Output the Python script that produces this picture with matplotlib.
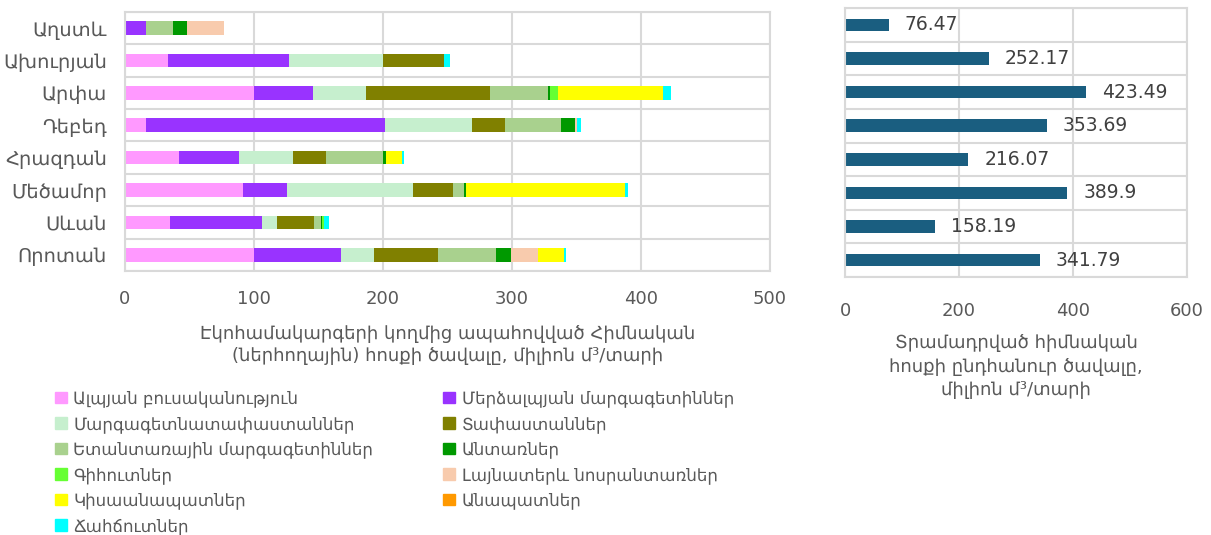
import matplotlib
matplotlib.use('Agg')
import matplotlib.pyplot as plt
from matplotlib.patches import Patch
import numpy as np

plt.rcParams['font.family'] = ['DejaVu Sans']

# regions, top to bottom
regions = ['Աղստև', 'Ախուրյան', 'Արփա', 'Դեբեդ', 'Հրազդան', 'Մեծամոր', 'Սևան', 'Որոտան']

series_names = ['Ալպյան բուսականություն', 'Մերձալպյան մարգագետիններ',
                'Մարգագետնատափաստաններ', 'Տափաստաններ',
                'Ետանտառային մարգագետիններ', 'Անտառներ',
                'Գիհուտներ', 'Լայնատերև նոսրանտառներ',
                'Կիսաանապատներ', 'Անապատներ', 'Ճահճուտներ']
colors = ['#ff99ff', '#9933ff', '#c6efce', '#808000', '#a9d18e', '#009900',
          '#66ff33', '#f8cbad', '#ffff00', '#ff9900', '#00ffff']

# values per series, in region order (million m3/year)
alpine       = [0,     33.0,  100.0, 16.5,  41.6,  91.5,  35.1,  100.0]
subalpine    = [16.0,  94.4,  45.5,  185.4, 46.8,  33.9,  70.8,  67.3]
meadow_steppe= [0,     72.8,  41.3,  66.9,  41.6,  98.0,  12.2,  26.1]
steppe       = [0.5,   47.2,  95.9,  25.6,  25.8,  30.9,  28.7,  49.3]
postforest   = [21.0,  0,     45.0,  44.0,  44.0,  8.5,   5.4,   44.8]
forest       = [10.3,  0,     1.8,   10.8,  2.3,   1.5,   0.8,   11.4]
juniper      = [0,     0,     6.4,   0,     0,     0,     1.6,   0]
broadleaf    = [28.67, 0,     0,     1.5,   0,     0,     0,     21.2]
semidesert   = [0,     0,     81.1,  0,     12.4,  123.5, 0,     20.4]
desert       = [0,     0,     0,     0,     0,     0,     0,     0]
wetland      = [0,     4.77,  6.5,   3.0,   1.6,   2.1,   3.6,   1.3]

totals = [76.47, 252.17, 423.49, 353.69, 216.07, 389.9, 158.19, 341.79]

series = [alpine, subalpine, meadow_steppe, steppe, postforest, forest,
          juniper, broadleaf, semidesert, desert, wetland]

grid_c = '#d9d9d9'
text_c = '#595959'

fig = plt.figure(figsize=(12.11, 5.35), dpi=100)
ax1 = fig.add_axes([0.1032, 0.4935, 0.5326, 0.4841])
ax2 = fig.add_axes([0.6978, 0.4822, 0.2824, 0.5028])

y = np.arange(len(regions))[::-1]

left = np.zeros(len(regions))
for vals, c in zip(series, colors):
    ax1.barh(y, vals, left=left, height=0.42, color=c, linewidth=0)
    left += np.array(vals)

ax2.barh(y, totals, height=0.37, color='#1a5e80', linewidth=0)
for yy, t in zip(y, totals):
    ax2.text(t + 28, yy, f'{t:g}', va='center', ha='left', fontsize=13.5, color='#404040')


def style(ax, xmax, step):
    ax.set_xlim(0, xmax)
    ax.set_ylim(-0.5, len(regions) - 0.5)
    ax.set_xticks(np.arange(0, xmax + 1, step))
    ax.set_yticks(y)
    ax.set_yticks(np.arange(-0.5, len(regions), 1), minor=True)
    ax.grid(True, axis='x', color=grid_c, linewidth=1.5)
    ax.grid(True, axis='y', which='minor', color=grid_c, linewidth=1.5)
    ax.set_axisbelow(True)
    for s in ax.spines.values():
        s.set_color(grid_c)
        s.set_linewidth(1.5)
    ax.tick_params(which='both', length=0, colors=text_c, labelsize=13)


style(ax1, 500, 100)
ax1.set_yticklabels(regions)
ax1.tick_params(axis='x', pad=14)
ax1.tick_params(axis='y', pad=13, labelsize=14)
ax1.set_xlabel('Էկոհամակարգերի կողմից ապահովված Հիմնական\n(ներհողային) հոսքի ծավալը, միլիոն մ³/տարի',
               fontsize=13, color=text_c, labelpad=12, linespacing=1.3)

style(ax2, 600, 200)
ax2.set_yticklabels([])
ax2.tick_params(axis='x', pad=18)
ax2.set_xlabel('Տրամադրված հիմնական\nհոսքի ընդհանուր ծավալը,\nմիլիոն մ³/տարի',
               fontsize=13, color=text_c, labelpad=10, linespacing=1.4)

handles = [Patch(color=c, label=n) for c, n in zip(colors, series_names)]
order = [0, 2, 4, 6, 8, 10, 1, 3, 5, 7, 9]
fig.legend([handles[i] for i in order], [series_names[i] for i in order],
           ncol=2, loc='upper left', bbox_to_anchor=(0.04, 0.285),
           frameon=False, fontsize=12, labelcolor=text_c,
           handlelength=0.7, handleheight=0.7, handletextpad=0.4,
           columnspacing=4.2, labelspacing=0.45, borderaxespad=0)

fig.savefig('out.png', dpi=100)
